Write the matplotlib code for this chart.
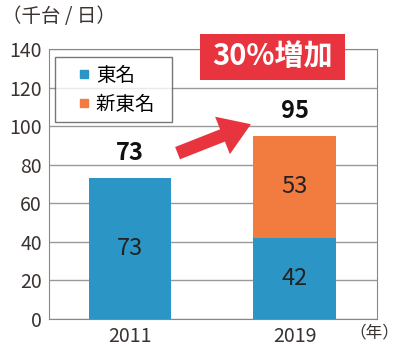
import matplotlib.pyplot as plt
from matplotlib.lines import Line2D
from matplotlib.patches import Rectangle

plt.rcParams['font.family'] = ['Noto Sans CJK JP', 'DejaVu Sans']

years = ['2011', '2019']
tomei = [73, 42]
shin_tomei = [0, 53]
totals = [73, 95]

blue = '#2b95c6'
orange = '#f27c40'
red = '#e8343e'
txt = '#3a3330'

fig = plt.figure(figsize=(4, 3.57), dpi=100)
ax = fig.add_axes([0.1225, 0.1064, 0.82, 0.7563])

x = [0, 1]
ax.bar(x, tomei, width=0.5, color=blue, zorder=3)
ax.bar(x[1:], shin_tomei[1:], bottom=tomei[1:], width=0.5, color=orange, zorder=3)

ax.set_xlim(-0.49, 1.5)
ax.set_ylim(0, 140)
ax.set_yticks(range(0, 141, 20))
ax.set_xticks(x)
ax.set_xticklabels(years)
ax.tick_params(length=0, labelsize=14, colors=txt, pad=5)
ax.yaxis.grid(True, color='#999999', lw=1, zorder=0)
for s in ax.spines.values():
    s.set_color('#888888')

# values inside bars
ax.text(0, tomei[0] / 2, str(tomei[0]), ha='center', va='center', fontsize=17, color='#222222', zorder=4)
ax.text(1, tomei[1] / 2, str(tomei[1]), ha='center', va='center', fontsize=17, color='#222222', zorder=4)
ax.text(1, tomei[1] + shin_tomei[1] / 2, str(shin_tomei[1]), ha='center', va='center', fontsize=17, color='#222222', zorder=4)

# totals
for i, t in enumerate(totals):
    ax.text(x[i], t + 13, str(t), ha='center', va='center', fontsize=17, fontweight='bold', color='#111111')

handles = [Line2D([], [], marker='s', ls='none', markersize=6, color=blue),
           Line2D([], [], marker='s', ls='none', markersize=6, color=orange)]
leg = ax.legend(handles, ['東名', '新東名\u2002'], loc='upper left', bbox_to_anchor=(0.018, 0.97),
                fontsize=14, frameon=True, fancybox=False, edgecolor='#555555',
                handlelength=2.2, handletextpad=-0.5, borderpad=0.4, labelspacing=0.4,
                borderaxespad=0)
leg.get_frame().set_linewidth(1)

# arrow
ax.annotate('', xy=(0.735, 101), xytext=(0.29, 86),
            arrowprops=dict(arrowstyle='simple,head_length=2.2,head_width=2.9,tail_width=0.95',
                            mutation_scale=10, shrinkA=0, shrinkB=0, color=red, lw=0), zorder=5)

fig.patches.append(Rectangle((0.5, 0.776), 0.3625, 0.129, transform=fig.transFigure,
                             fc=red, ec='none'))
fig.text(0.681, 0.842, '30%増加', ha='center', va='center', fontsize=21, fontweight='bold',
         color='white')

fig.text(0.005, 0.955, '（千台 / 日）', ha='left', va='center', fontsize=14, color=txt)
fig.text(0.998, 0.068, '（年）', ha='right', va='center', fontsize=12, color=txt)

fig.savefig('out.png', dpi=100)
